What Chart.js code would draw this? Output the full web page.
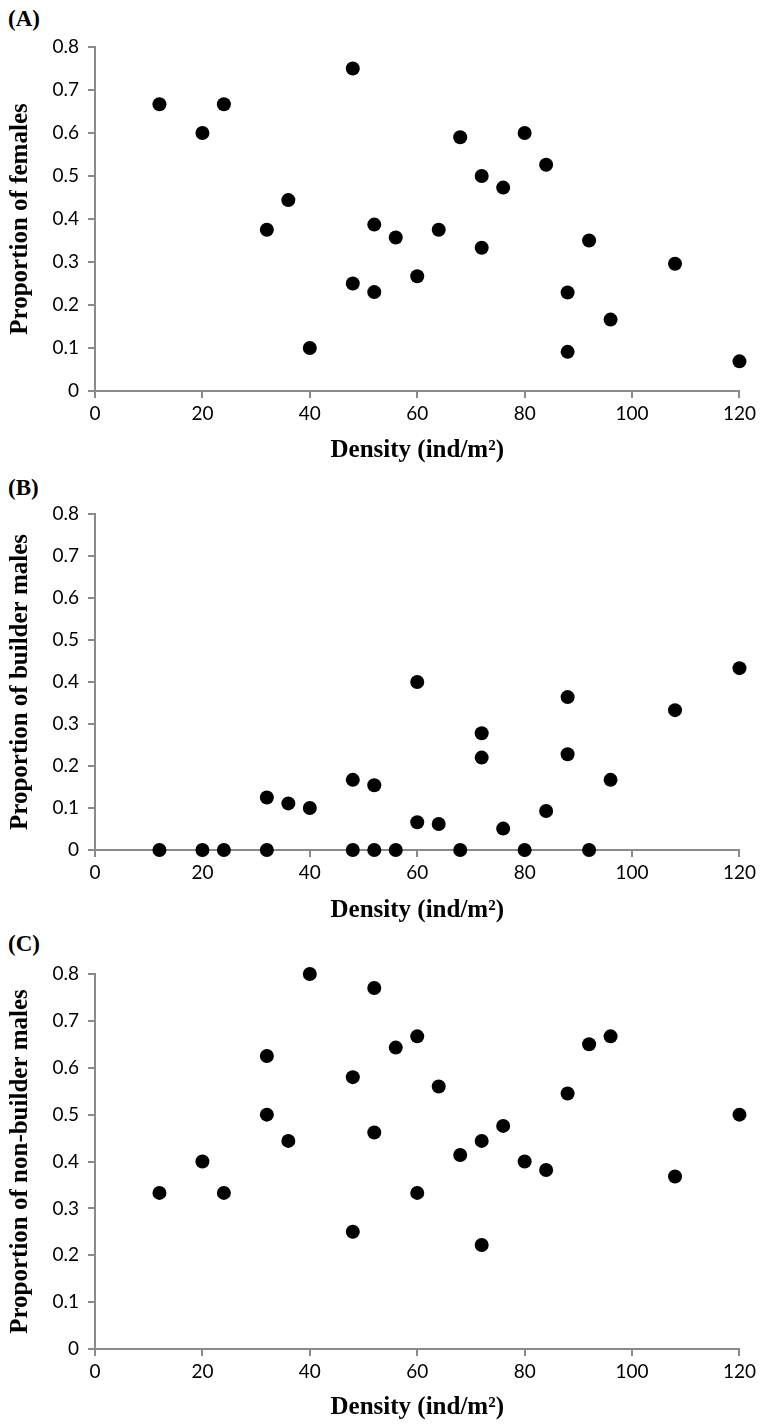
<!DOCTYPE html>
<html>
<head>
<meta charset="utf-8">
<script src="https://cdn.jsdelivr.net/npm/chart.js@4.4.0/dist/chart.umd.min.js"></script>
<style>
  html, body { margin: 0; padding: 0; background: #fff; }
  body { width: 760px; height: 1427px; position: relative; overflow: hidden; }
  .panel { position: absolute; left: 0; width: 760px; }
  .lab { position: absolute; left: 8px; font-family: "Liberation Serif", serif; font-weight: bold; font-size: 23px; line-height: 1; color: #000; }
</style>
</head>
<body>
<div class="lab" id="labA" style="top:7px">(A)</div>
<div class="lab" id="labB" style="top:476px">(B)</div>
<div class="lab" id="labC" style="top:932px">(C)</div>
<div class="panel" style="top:0;height:470px"><canvas id="cA"></canvas></div>
<div class="panel" style="top:470px;height:460px"><canvas id="cB"></canvas></div>
<div class="panel" style="top:930px;height:497px"><canvas id="cC"></canvas></div>
<script>
// ---- data ----
const xTicks = [0, 20, 40, 60, 80, 100, 120];
const yTicks = [0, 0.1, 0.2, 0.3, 0.4, 0.5, 0.6, 0.7, 0.8];
const xTitle = "Density (ind/m²)";

const densityA = [12, 20, 24, 32, 36, 40, 48, 48, 52, 52, 56, 60, 64, 68, 72, 72, 76, 80, 84, 88, 88, 92, 96, 108, 120];
const females  = [0.667, 0.6, 0.667, 0.375, 0.444, 0.1, 0.75, 0.25, 0.387, 0.23, 0.357, 0.267, 0.375, 0.59, 0.5, 0.333, 0.473, 0.6, 0.526, 0.229, 0.091, 0.35, 0.166, 0.296, 0.069];

const densityB = [12, 20, 24, 32, 48, 52, 56, 68, 80, 92, 32, 36, 40, 48, 52, 60, 60, 64, 72, 72, 76, 84, 88, 88, 96, 108, 120];
const builders = [0, 0, 0, 0, 0, 0, 0, 0, 0, 0, 0.125, 0.111, 0.1, 0.167, 0.154, 0.4, 0.066, 0.062, 0.278, 0.22, 0.051, 0.093, 0.364, 0.228, 0.167, 0.333, 0.433];

const densityC = [12, 20, 24, 32, 32, 36, 40, 48, 48, 52, 52, 56, 60, 60, 64, 68, 72, 72, 76, 80, 84, 88, 92, 96, 108, 120];
const nonBuilders = [0.333, 0.4, 0.333, 0.625, 0.5, 0.444, 0.8, 0.58, 0.25, 0.77, 0.462, 0.643, 0.667, 0.333, 0.56, 0.414, 0.444, 0.222, 0.476, 0.4, 0.382, 0.545, 0.65, 0.667, 0.368, 0.5];

const yTitles = ["Proportion of females", "Proportion of builder males", "Proportion of non-builder males"];

// ---- chart builder ----
function makeChart(id, xs, ys, yTitle, padTop, xScaleHeight) {
  const pts = xs.map((x, i) => ({ x: x, y: ys[i] }));
  const axisColor = '#8a8a8a';
  const tickFont = { family: 'Lato, "Open Sans", sans-serif', size: 19 };
  const titleFont = { family: '"Liberation Serif", serif', size: 25, weight: 'bold' };
  return new Chart(document.getElementById(id), {
    type: 'scatter',
    data: { datasets: [{ data: pts, backgroundColor: '#000', borderWidth: 0, pointRadius: 7, pointHoverRadius: 7, clip: false }] },
    options: {
      responsive: true,
      maintainAspectRatio: false,
      animation: false,
      events: [],
      layout: { padding: { top: padTop, right: 20, left: 0, bottom: 0 } },
      plugins: { legend: { display: false }, tooltip: { enabled: false } },
      scales: {
        x: {
          type: 'linear', min: 0, max: 120,
          afterBuildTicks: s => { s.ticks = xTicks.map(v => ({ value: v })); },
          afterFit: s => { s.height = xScaleHeight; },
          ticks: { color: '#000', font: tickFont, padding: 4, maxRotation: 0 },
          grid: { drawOnChartArea: false, drawTicks: true, tickLength: 7, color: axisColor, lineWidth: 2 },
          border: { color: axisColor, width: 2 },
          title: { display: true, text: xTitle, color: '#000', font: titleFont, padding: { top: 0, bottom: 4 } }
        },
        y: {
          type: 'linear', min: 0, max: 0.8,
          afterBuildTicks: s => { s.ticks = yTicks.map(v => ({ value: v })); },
          afterFit: s => { s.width = 95; },
          ticks: { color: '#000', font: tickFont, padding: 9, callback: v => String(+v.toFixed(1)) },
          grid: { drawOnChartArea: false, drawTicks: true, tickLength: 7, color: axisColor, lineWidth: 2 },
          border: { color: axisColor, width: 2 },
          title: { display: true, text: yTitle, color: '#000', font: titleFont, padding: { top: 6, bottom: 0 } }
        }
      }
    }
  });
}

makeChart('cA', densityA, females, yTitles[0], 47, 79);
makeChart('cB', densityB, builders, yTitles[1], 44, 80);
makeChart('cC', densityC, nonBuilders, yTitles[2], 44, 78);
</script>
</body>
</html>
